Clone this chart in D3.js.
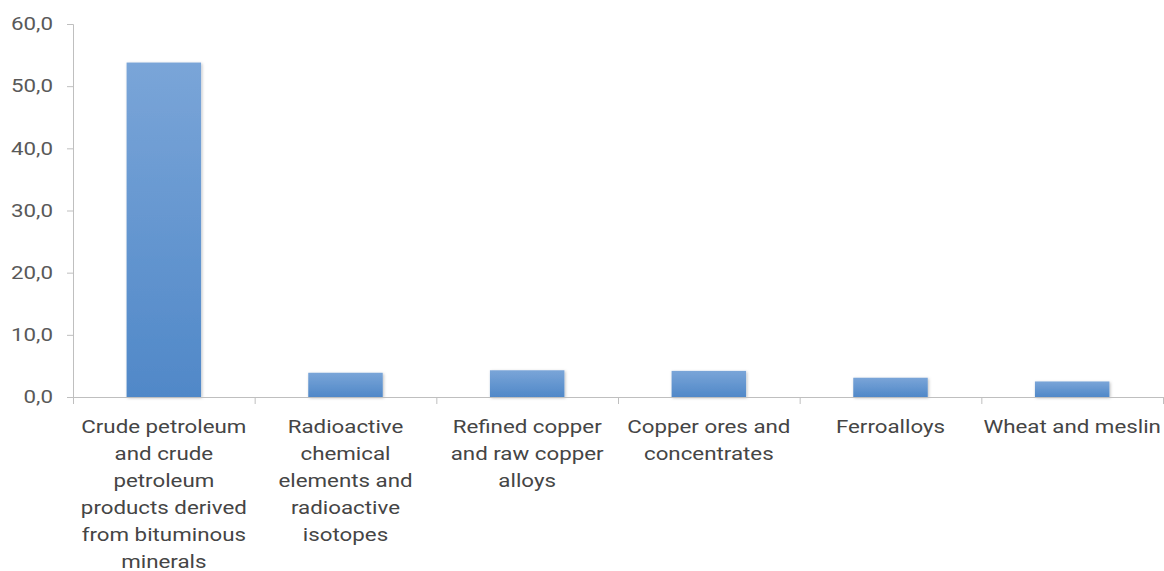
<!DOCTYPE html>
<html>
<head>
<meta charset="utf-8">
<script src="https://cdn.jsdelivr.net/npm/d3@7"></script>
<style>
  html, body { margin: 0; padding: 0; background: #fff; }
  svg { display: block; }
  text { font-family: Roboto, "Open Sans", sans-serif; }
</style>
</head>
<body>
<svg id="chart" width="1164" height="571"></svg>
<script>
const categories = [
  "Crude petroleum and crude petroleum products derived from bituminous minerals",
  "Radioactive chemical elements and radioactive isotopes",
  "Refined copper and raw copper alloys",
  "Copper ores and concentrates",
  "Ferroalloys",
  "Wheat and meslin"
];
const labelLines = [
  ["Crude petroleum", "and crude", "petroleum", "products derived", "from bituminous", "minerals"],
  ["Radioactive", "chemical", "elements and", "radioactive", "isotopes"],
  ["Refined copper", "and raw copper", "alloys"],
  ["Copper ores and", "concentrates"],
  ["Ferroalloys"],
  ["Wheat and meslin"]
];
const values = [53.8, 3.9, 4.3, 4.2, 3.1, 2.5];
const yTicks = [0, 10, 20, 30, 40, 50, 60];

const svg = d3.select("#chart");
const mLeft = 73, mRight = 1163, mTop = 24, mBottom = 397;
const stretch = 1.24;

const x = d3.scaleBand().domain(categories).range([mLeft, mRight])
  .paddingInner(0.59).paddingOuter(0.295);
const y = d3.scaleLinear().domain([0, 60]).range([mBottom, mTop]);

const defs = svg.append("defs");
const grad = defs.append("linearGradient").attr("id", "barGrad")
  .attr("x1", 0).attr("y1", 0).attr("x2", 0).attr("y2", 1);
grad.append("stop").attr("offset", "0%").attr("stop-color", "#7aa5d8");
grad.append("stop").attr("offset", "100%").attr("stop-color", "#5088c8");
const filt = defs.append("filter").attr("id", "shadow")
  .attr("x", "-10%").attr("y", "-10%").attr("width", "130%").attr("height", "130%");
filt.append("feDropShadow").attr("dx", 1).attr("dy", 1).attr("stdDeviation", 1.5)
  .attr("flood-color", "#000").attr("flood-opacity", 0.25);

// bars
svg.append("g").selectAll("rect").data(values).join("rect")
  .attr("x", (d, i) => x(categories[i]))
  .attr("y", d => y(d))
  .attr("width", x.bandwidth())
  .attr("height", d => y(0) - y(d))
  .attr("fill", "url(#barGrad)")
  .attr("filter", "url(#shadow)");

// y axis
const yAxis = d3.axisLeft(y).tickValues(yTicks).tickSize(6).tickPadding(14)
  .tickFormat(d => d3.format(".1f")(d).replace(".", ","));
const gy = svg.append("g").attr("transform", `translate(${mLeft},0)`).call(yAxis);
gy.select(".domain").attr("stroke", "#bfbfbf");
gy.selectAll(".tick line").attr("stroke", "#bfbfbf");
gy.selectAll(".tick text").attr("fill", "#595959").style("font-size", "18px")
  .style("font-family", "Roboto, sans-serif")
  .attr("x", -20 / stretch)
  .attr("transform", `scale(${stretch},1)`);

// x axis line
const xLine = d3.scaleLinear().domain([0, categories.length]).range([mLeft, mRight]);
const xAxis = d3.axisBottom(xLine).tickValues(d3.range(0, categories.length + 1))
  .tickSize(7).tickFormat("");
const gx = svg.append("g").attr("transform", `translate(0,${mBottom})`).call(xAxis);
gx.select(".domain").attr("stroke", "#bfbfbf");
gx.selectAll(".tick line").attr("stroke", "#bfbfbf");

// category labels
const lg = svg.append("g");
labelLines.forEach((lines, i) => {
  const cx = x(categories[i]) + x.bandwidth() / 2;
  const t = lg.append("text").attr("text-anchor", "middle")
    .attr("transform", `translate(${cx},0) scale(${stretch},1)`)
    .attr("fill", "#454545").style("font-size", "18px");
  lines.forEach((ln, j) => {
    t.append("tspan").attr("x", 0).attr("y", 433 + j * 27).text(ln);
  });
});
</script>
</body>
</html>
